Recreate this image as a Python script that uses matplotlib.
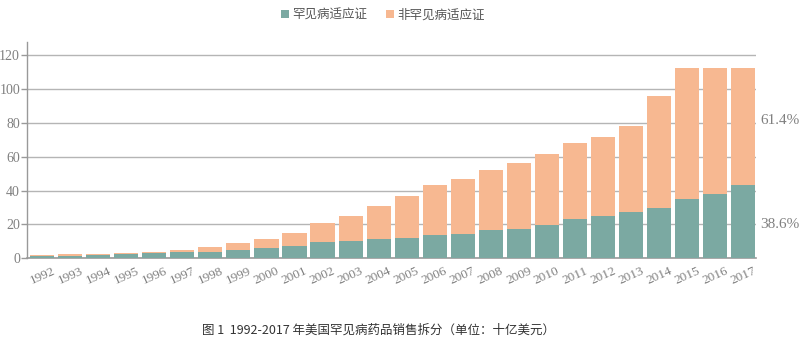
import matplotlib
matplotlib.use("Agg")
import matplotlib.pyplot as plt
import numpy as np

years = [str(y) for y in range(1992, 2018)]
rare = [1.5, 1.6, 2.2, 2.8, 3.4, 3.6, 3.8, 4.9, 6.1, 7.3, 9.8, 10.4, 11.6, 12.2,
        14.0, 14.5, 16.9, 17.3, 19.7, 23.2, 25.0, 27.4, 29.7, 35.1, 38.0, 43.4]
total = [2.1, 2.8, 2.6, 3.2, 3.8, 5.0, 6.7, 9.2, 11.4, 15.1, 21.0, 25.0, 30.9, 36.8,
         43.3, 46.9, 52.2, 56.3, 61.6, 68.1, 71.7, 78.2, 95.9, 112.5, 112.5, 112.5]
non_rare = [t - r for t, r in zip(total, rare)]
yticks = [0, 20, 40, 60, 80, 100, 120]
share_labels = ["61.4%", "38.6%"]
share_pos = [81.7, 19.7]
legend_labels = ["罕见病适应证", "非罕见病适应证"]
caption = "图 1  1992-2017 年美国罕见病药品销售拆分（单位：十亿美元）"

green = "#7BA9A2"
orange = "#F7B891"
grid_c = "#B5B5B5"
text_c = "#808080"
cjk = ["Noto Sans CJK SC", "DejaVu Sans"]

fig = plt.figure(figsize=(8.06, 3.41), dpi=100)
ax = fig.add_axes([27 / 806, 1 - 258.3 / 341, (756 - 27) / 806, (258.3 - 41.7) / 341])

x = np.arange(len(years))
b1 = ax.bar(x, rare, width=0.86, color=green, zorder=3, label=legend_labels[0])
b2 = ax.bar(x, non_rare, bottom=rare, width=0.86, color=orange, zorder=3, label=legend_labels[1])

ax.set_xlim(-0.54, 25.46)
ax.set_ylim(0, 128)
ax.set_yticks(yticks)
ax.set_yticklabels([str(v) for v in yticks], family="Liberation Serif", fontsize=10, color=text_c)
ax.set_xticks(x)
ax.set_xticklabels(years, family="Liberation Serif", fontsize=9.5, color=text_c,
                   rotation=24, ha="center")
ax.tick_params(axis="y", length=4, width=1, color="#999999", pad=1)
ax.tick_params(axis="x", length=0, pad=5)
ax.grid(axis="y", color=grid_c, linewidth=1, zorder=0)
for s in ["top", "right"]:
    ax.spines[s].set_visible(False)
ax.spines["left"].set_color("#999999")
ax.spines["bottom"].set_color("#999999")
ax.spines["left"].set_linewidth(1)
ax.spines["bottom"].set_linewidth(1.2)

for lab, pos in zip(share_labels, share_pos):
    ax.text(25.6, pos, lab, family="Liberation Serif", fontsize=11, color=text_c,
            va="center", ha="left", clip_on=False)

leg = fig.legend(handles=[b1, b2], labels=legend_labels, loc="center",
                 bbox_to_anchor=(383 / 806, 1 - 15 / 341), ncol=2, frameon=False,
                 prop={"family": cjk, "size": 9}, handlelength=0.6, handleheight=0.6,
                 handletextpad=0.3, columnspacing=1.5)
for t in leg.get_texts():
    t.set_color("#555555")

fig.text(379 / 806, 1 - 330 / 341, caption, family=cjk, fontsize=9, color="#333333",
         ha="center", va="center")

fig.savefig("out.png", dpi=100)
